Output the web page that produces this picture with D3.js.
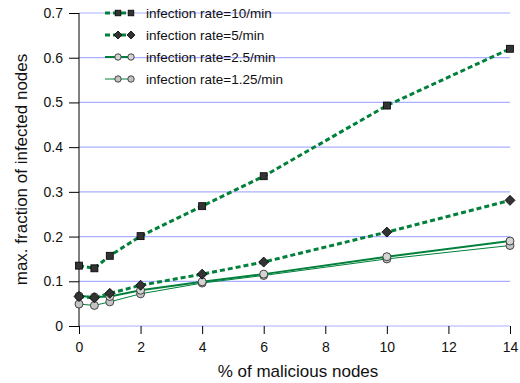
<!DOCTYPE html>
<html>
<head>
<meta charset="utf-8">
<script src="https://cdn.jsdelivr.net/npm/d3@7"></script>
<style>
  body { margin: 0; background: #fff; }
  text { font-family: "Liberation Sans", Arial, sans-serif; fill: #111; }
</style>
</head>
<body>
<div id="chart"></div>
<script>
// data
const xValues = [0, 0.5, 1, 2, 4, 6, 10, 14];
const rate10 = [0.135, 0.129, 0.157, 0.201, 0.268, 0.335, 0.493, 0.620];
const rate5 = [0.066, 0.063, 0.073, 0.091, 0.116, 0.143, 0.210, 0.281];
const rate25 = [0.067, 0.065, 0.066, 0.080, 0.099, 0.116, 0.155, 0.190];
const rate125 = [0.049, 0.046, 0.054, 0.072, 0.096, 0.113, 0.150, 0.180];
const seriesNames = ['infection rate=10/min', 'infection rate=5/min', 'infection rate=2.5/min', 'infection rate=1.25/min'];
const xTicks = [0, 2, 4, 6, 8, 10, 12, 14];
const yTicks = [0, 0.1, 0.2, 0.3, 0.4, 0.5, 0.6, 0.7];

const series = [
    { name: seriesNames[0], values: rate10, dash: '5,3', width: 3, marker: 'square', fill: '#333' },
    { name: seriesNames[1], values: rate5, dash: '5,3', width: 3, marker: 'diamond', fill: '#333' },
    { name: seriesNames[2], values: rate25, dash: null, width: 2, marker: 'circle', fill: '#d4d4d4' },
    { name: seriesNames[3], values: rate125, dash: null, width: 1, marker: 'circle', fill: '#c4c4c4' }
];

const W = 520, H = 383;
const margin = { top: 13, right: 10, bottom: 57, left: 79 };
const width = W - margin.left - margin.right;
const height = H - margin.top - margin.bottom;
const green = '#00803a';

const svg = d3.select('#chart').append('svg')
    .attr('width', W)
    .attr('height', H);

const g = svg.append('g')
    .attr('transform', `translate(${margin.left},${margin.top})`);

const x = d3.scaleLinear().domain([0, 14]).range([0, width]);
const y = d3.scaleLinear().domain([0, 0.7]).range([height, 0]);

// gridlines
g.selectAll('.grid')
    .data(yTicks)
    .enter().append('line')
    .attr('class', 'grid')
    .attr('x1', 0).attr('x2', width)
    .attr('y1', d => y(d)).attr('y2', d => y(d))
    .attr('stroke', '#aab0ff')
    .attr('stroke-width', 1.2);

// axes
const yAxis = g.append('g')
    .call(d3.axisLeft(y).tickValues(yTicks).tickFormat(d => d === 0 ? '0' : d3.format('.1f')(d)).tickSize(10).tickPadding(6));
yAxis.select('.domain').attr('stroke', '#000').attr('d', `M0,${y(0)}V${y(0.7)}`);
yAxis.selectAll('text').style('font-size', '14px');

const xAxis = g.append('g')
    .attr('transform', `translate(0,${height})`)
    .call(d3.axisBottom(x).tickValues(xTicks).tickSize(8).tickPadding(8));
xAxis.select('.domain').remove();
xAxis.selectAll('text').style('font-size', '14px');

// axis titles
svg.append('text')
    .attr('x', 298)
    .attr('y', 377)
    .attr('text-anchor', 'middle')
    .style('font-size', '17px')
    .text('% of malicious nodes');

svg.append('text')
    .attr('transform', `translate(27,${margin.top + height / 2}) rotate(-90)`)
    .attr('text-anchor', 'middle')
    .style('font-size', '17px')
    .text('max. fraction of infected nodes');

const line = d3.line()
    .x((d, i) => x(xValues[i]))
    .y(d => y(d));

const drawMarker = (sel, type, fill, k) => {
    if (type === 'square') {
        sel.append('rect').attr('x', -3.5 * k).attr('y', -3.5 * k).attr('width', 7 * k).attr('height', 7 * k)
            .attr('fill', fill).attr('stroke', '#000').attr('stroke-width', 0.8);
    } else if (type === 'diamond') {
        sel.append('path').attr('d', `M0,${-5 * k}L${5 * k},0L0,${5 * k}L${-5 * k},0Z`)
            .attr('fill', fill).attr('stroke', '#000').attr('stroke-width', 0.8);
    } else {
        sel.append('circle').attr('r', 4 * k)
            .attr('fill', fill).attr('stroke', '#333').attr('stroke-width', 0.9);
    }
};

// lines (bottom series drawn first)
series.slice().reverse().forEach(s => {
    g.append('path')
        .attr('d', line(s.values))
        .attr('fill', 'none')
        .attr('stroke', green)
        .attr('stroke-width', s.width)
        .attr('stroke-dasharray', s.dash);
});

series.slice().reverse().forEach(s => {
    s.values.forEach((v, i) => {
        const m = g.append('g').attr('transform', `translate(${x(xValues[i])},${y(v)})`);
        drawMarker(m, s.marker, s.fill, 1);
    });
});

// legend
const legend = svg.append('g').attr('transform', 'translate(105,13)');
series.forEach((s, i) => {
    const row = legend.append('g').attr('transform', `translate(0,${i * 22})`);
    row.append('line')
        .attr('x1', 0).attr('x2', 27)
        .attr('stroke', green)
        .attr('stroke-width', s.width)
        .attr('stroke-dasharray', s.dash);
    [13, 26].forEach(px => {
        const m = row.append('g').attr('transform', `translate(${px},0)`);
        drawMarker(m, s.marker, s.fill, 0.8);
    });
    row.append('text')
        .attr('x', 41)
        .attr('y', 0)
        .attr('dy', '0.35em')
        .style('font-size', '13.5px')
        .text(s.name);
});
</script>
</body>
</html>
